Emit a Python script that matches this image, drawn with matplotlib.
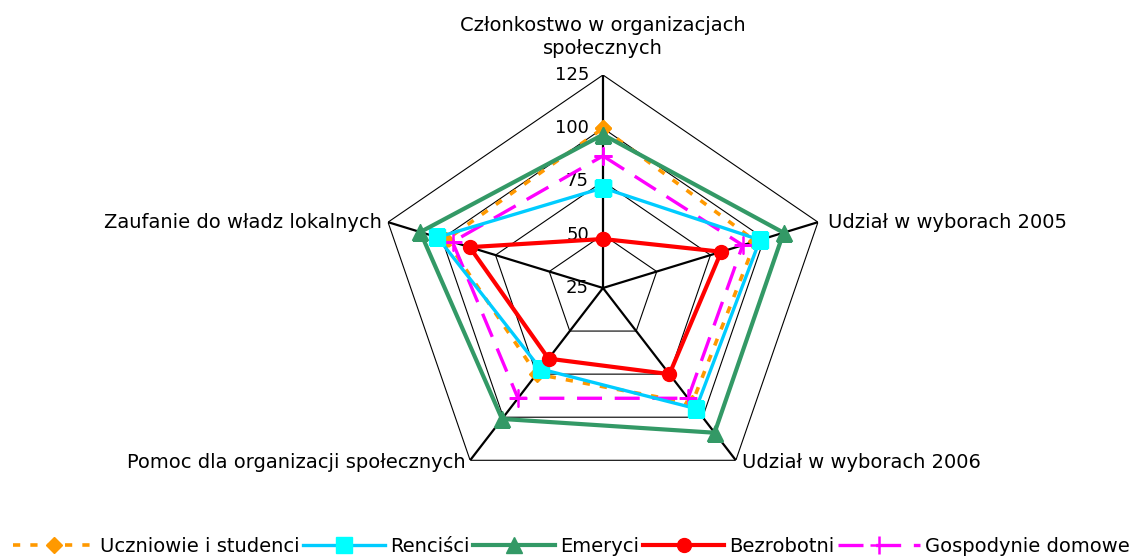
import numpy as np
import matplotlib
matplotlib.use('Agg')
import matplotlib.pyplot as plt
from matplotlib.transforms import offset_copy

plt.rcParams['font.family'] = ['DejaVu Sans']

# Dane
categories = ['Członkostwo w organizacjach\nspołecznych',
              'Udział w wyborach 2005',
              'Udział w wyborach 2006',
              'Pomoc dla organizacji społecznych',
              'Zaufanie do władz lokalnych']
uczniowie = [100, 96, 92, 75, 98]
rencisci = [72, 98, 95, 72, 102]
emeryci = [97, 109, 109, 101, 110]
bezrobotni = [48, 80, 75, 66, 87]
gospodynie = [87, 90, 89, 89, 95]
levels = [25, 50, 75, 100, 125]

n = len(categories)
angles = np.linspace(0, 2 * np.pi, n, endpoint=False)
closed = np.append(angles, angles[0])

def close(vals):
    return list(vals) + [vals[0]]

fig = plt.figure(figsize=(11.43, 5.58), dpi=100)
ax = fig.add_axes([0.3298, 0.1022, 0.3955, 0.7634], projection='polar')
ax.set_theta_zero_location('N')
ax.set_theta_direction(-1)
ax.set_ylim(25, 125)
ax.set_aspect('auto')
ax.grid(False)
ax.set_xticks([])
ax.set_yticks([])
ax.spines['polar'].set_visible(False)
ax.patch.set_visible(False)

# siatka pięciokątna
for lv in levels[1:]:
    ax.plot(closed, [lv] * (n + 1), color='black', lw=0.8, zorder=1)
for a in angles:
    ax.plot([a, a], [25, 125], color='black', lw=1.6, zorder=1)

# etykiety osi promieniowej
lab_tr = offset_copy(ax.transData, fig=fig, x=-14, y=0, units='dots')
for lv in levels:
    ax.text(0, lv, str(lv), transform=lab_tr, ha='right', va='center', fontsize=13)

# serie
ax.plot(closed, close(uczniowie), color='#FF9900', lw=2.6, dashes=(2.0, 2.8),
        marker='D', markersize=8, markerfacecolor='#FF9900', markeredgecolor='#FF9900',
        label='Uczniowie i studenci', zorder=3)
ax.plot(closed, close(rencisci), color='#00CCFF', lw=2.4,
        marker='s', markersize=11, markerfacecolor='#00FFFF', markeredgecolor='#00FFFF',
        label='Renciści', zorder=4)
ax.plot(closed, close(emeryci), color='#339966', lw=3,
        marker='^', markersize=12, markerfacecolor='#339966', markeredgecolor='#339966',
        label='Emeryci', zorder=5)
ax.plot(closed, close(bezrobotni), color='#FF0000', lw=3,
        marker='o', markersize=10, markerfacecolor='#FF0000', markeredgecolor='#FF0000',
        label='Bezrobotni', zorder=6)
ax.plot(closed, close(gospodynie), color='#FF00FF', lw=2.4, dashes=(7.5, 3.8),
        marker='+', markersize=13, markeredgewidth=1.8, markeredgecolor='#FF00FF',
        label='Gospodynie domowe', zorder=3)

# etykiety kategorii
offsets = [(0, 17, 'center', 'bottom'), (10, 0, 'left', 'center'),
           (6, -2, 'left', 'center'), (-5, -2, 'right', 'center'),
           (-6, 0, 'right', 'center')]
for a, cat, (dx, dy, ha, va) in zip(angles, categories, offsets):
    tr = offset_copy(ax.transData, fig=fig, x=dx, y=dy, units='dots')
    ax.text(a, 125, cat, transform=tr, ha=ha, va=va, fontsize=14,
            multialignment='center', linespacing=1.25)

fig.legend(loc='lower center', bbox_to_anchor=(0.5, -0.027), ncol=5, frameon=False,
           fontsize=14, handlelength=4.2, handletextpad=0.25, columnspacing=0.2)

fig.savefig('out.png', dpi=100)
